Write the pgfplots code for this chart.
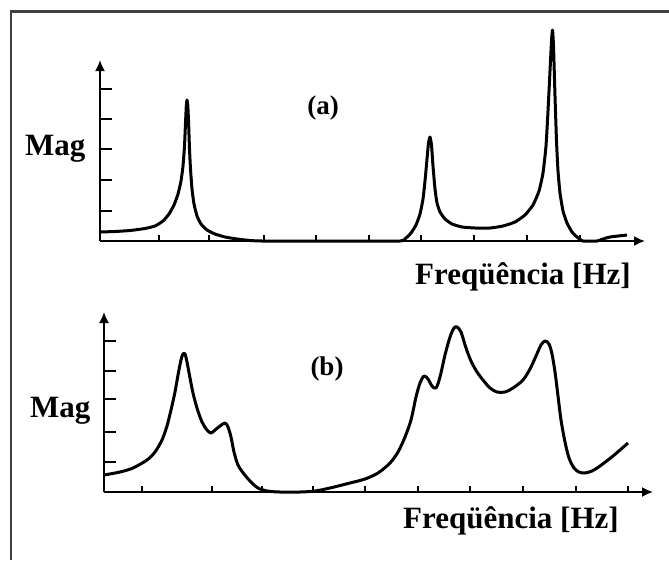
\documentclass[border=0pt]{standalone}
\usepackage{pgfplots}
\pgfplotsset{compat=1.18}
\usetikzlibrary{arrows.meta}
\usepackage{fontspec}
\setmainfont{Liberation Serif}

\pgfplotsset{myax/.style={
  scale only axis, axis lines=left,
  axis line style={line width=1.7pt, black, -{Latex[length=11pt,width=10pt]}},
  xtick=\empty, yticklabels={},
  tick align=inside,
  major tick length=12pt,
  tick style={line width=1.4pt, black},
  extra x tick style={major tick length=6pt, tick style={line width=1.4pt, black}},
  extra x tick labels={},
  clip=false,
  anchor=south west,
}}

\begin{document}
\begin{tikzpicture}
\useasboundingbox (0,0) rectangle (669pt,-560pt);
\draw[line width=2.6pt, black!75] (10.8pt,-560pt) -- (10.8pt,-11.7pt) -- (669pt,-11.7pt);

% ---------- (a) ----------
\begin{axis}[myax, at={(100pt,-241pt)}, width=545pt, height=181pt,
  xmin=100, xmax=645, ymin=0, ymax=181,
  ytick={30,61,92,122,152},
  extra x ticks={159,209,264,316,369,421,474,527,580}]
\addplot[line width=3pt, black, line join=round, smooth, tension=0.3] coordinates {
(100,9)(115,9.5)(130,10.5)(145,12.5)(155,15)(163,20)(169,27)(174,36)(178,47)(181,60)(183,75)(184.5,95)(185.5,118)(186.3,135)(187,141)(187.8,136)(188.6,118)(189.5,92)(190.5,72)(192,52)(194,37)(197,25)(201,17)(207,11)(215,7)(225,4)(237,2)(250,0.5)(262,0)
(300,0)(350,0)(400,0)(406,3)(411,8)(416,16)(420,27)(423,42)(425,60)(427,82)(428.5,98)(430,104)(431.5,96)(433,75)(435,52)(437,38)(440,29)(445,22)(452,17)(462,14)(475,13)(490,13)(503,15)(515,19)(525,26)(533,36)(539,50)(543,68)(546,95)(548,130)(550,170)(551.5,200)(552.5,211)(553.5,195)(555,145)(556.5,100)(558,70)(560,48)(563,30)(567,18)(572,9)(577,4)(583,0)(597,0)(603,2)(610,4)(627,6)
};
\end{axis}
\node[anchor=base west, inner sep=0pt, font=\bfseries\fontsize{31}{36}\selectfont] at (25pt,-155pt) {Mag};
\node[anchor=base west, inner sep=0pt, font=\bfseries\fontsize{31}{36}\selectfont] at (415pt,-284pt) {Freqüência [Hz]};
\node[inner sep=0pt, font=\bfseries\fontsize{27}{30}\selectfont] at (323pt,-108pt) {(a)};

% ---------- (b) ----------
\begin{axis}[myax, at={(104pt,-492pt)}, width=549pt, height=180pt,
  xmin=104, xmax=653, ymin=0, ymax=180,
  ytick={30,60,93,121,151},
  extra x ticks={142,212,262,313,365,418,470,523,576,628}]
\addplot[line width=3pt, black, line join=round, smooth, tension=0.5] coordinates {
(104,17)(120,20)(133,24)(147,32)(155,40)(162,52)(167,66)(171,82)(175,100)(178,117)(181,132)(183,138)(185,138)(187,130)(190,114)(193,99)(197,84)(202,70)(207,62)(211,59)(215,62)(220,66)(225,69)(228,65)(231,55)(234,40)(238,27)(244,18)(251,10)(258,4)(267,1)(280,0)(300,0)(315,1)
(330,4)(350,9)(365,13)(378,19)(390,29)(398,40)(405,55)(411,72)(416,95)(420,109)(424,116)(428,113)(432,106)(436,104)(440,115)(445,137)(450,155)(454,164)(457,165)(461,160)(466,144)(471,131)(477,120)(483,112)(490,104)(497,100)(505,100)(513,104)(523,112)(530,123)(536,136)(541,147)(545,151)(549,148)(552,138)(555,120)(558,96)(561,72)(565,50)(569,34)(574,24)(579,20)(585,19)(592,21)(600,26)(613,36)(628,49)
};
\end{axis}
\node[anchor=base west, inner sep=0pt, font=\bfseries\fontsize{31}{36}\selectfont] at (30pt,-417pt) {Mag};
\node[anchor=base west, inner sep=0pt, font=\bfseries\fontsize{31}{36}\selectfont] at (403pt,-528pt) {Freqüência [Hz]};
\node[inner sep=0pt, font=\bfseries\fontsize{27}{30}\selectfont] at (327pt,-369pt) {(b)};
\end{tikzpicture}
\end{document}
